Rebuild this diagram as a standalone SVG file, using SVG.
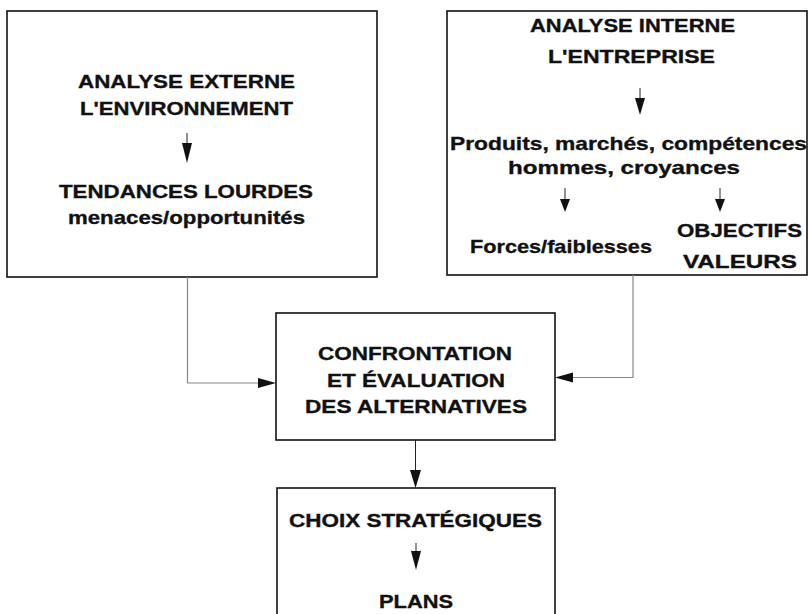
<svg xmlns="http://www.w3.org/2000/svg" width="809" height="614" viewBox="0 0 809 614">
<style>
.box{fill:none;stroke:#111;stroke-width:1.6}
.t{font-family:"Liberation Sans",Arial,sans-serif;font-weight:bold;font-size:19px;fill:#111;stroke:#111;stroke-width:0.35;text-anchor:middle}
.ln{fill:none;stroke:#222;stroke-width:1}
.cn{fill:none;stroke:#888;stroke-width:1.2}
.hd{fill:#111;stroke:none}
</style>
<rect width="809" height="614" fill="#fff"/>
<g id="externe">
<rect class="box" x="7" y="11" width="370" height="266"/>
<text class="t" x="186.5" y="88" textLength="217" lengthAdjust="spacingAndGlyphs">ANALYSE EXTERNE</text>
<text class="t" x="186.5" y="115" textLength="213" lengthAdjust="spacingAndGlyphs">L'ENVIRONNEMENT</text>
<line class="ln" x1="187" y1="133" x2="187" y2="144"/>
<polygon class="hd" points="182,143 192,143 187,163"/>
<text class="t" x="186" y="198" textLength="254" lengthAdjust="spacingAndGlyphs">TENDANCES LOURDES</text>
<text class="t" x="186.5" y="224" textLength="237" lengthAdjust="spacingAndGlyphs">menaces/opportunités</text>
</g>
<g id="interne">
<rect class="box" x="447" y="11" width="360" height="264"/>
<text class="t" x="632.5" y="32" textLength="205" lengthAdjust="spacingAndGlyphs">ANALYSE INTERNE</text>
<text class="t" x="631.5" y="63" textLength="167" lengthAdjust="spacingAndGlyphs">L'ENTREPRISE</text>
<line class="ln" x1="640" y1="88" x2="640" y2="99"/>
<polygon class="hd" points="635,98 645,98 640,115"/>
<text class="t" x="628.5" y="150" textLength="357" lengthAdjust="spacingAndGlyphs">Produits, marchés, compétences</text>
<text class="t" x="624" y="174" textLength="232" lengthAdjust="spacingAndGlyphs">hommes, croyances</text>
<line class="ln" x1="565" y1="188" x2="565" y2="200"/>
<polygon class="hd" points="560,199 570,199 565,212"/>
<line class="ln" x1="720" y1="188" x2="720" y2="200"/>
<polygon class="hd" points="715,199 725,199 720,212"/>
<text class="t" x="561" y="253" textLength="182" lengthAdjust="spacingAndGlyphs">Forces/faiblesses</text>
<text class="t" x="739.5" y="237" textLength="125" lengthAdjust="spacingAndGlyphs">OBJECTIFS</text>
<text class="t" x="740" y="268" textLength="114" lengthAdjust="spacingAndGlyphs">VALEURS</text>
</g>
<g id="confrontation">
<rect class="box" x="276" y="313" width="279" height="127"/>
<text class="t" x="415" y="360" textLength="194" lengthAdjust="spacingAndGlyphs">CONFRONTATION</text>
<text class="t" x="416" y="387" textLength="178" lengthAdjust="spacingAndGlyphs">ET ÉVALUATION</text>
<text class="t" x="416" y="413" textLength="222" lengthAdjust="spacingAndGlyphs">DES ALTERNATIVES</text>
</g>
<g id="choix">
<rect class="box" x="277" y="488" width="278" height="140"/>
<text class="t" x="415.5" y="527" textLength="253" lengthAdjust="spacingAndGlyphs">CHOIX STRATÉGIQUES</text>
<line class="ln" x1="416" y1="543" x2="416" y2="552"/>
<polygon class="hd" points="411,551 421,551 416,570"/>
<text class="t" x="416" y="608" textLength="74" lengthAdjust="spacingAndGlyphs">PLANS</text>
</g>
<g id="connectors">
<polyline class="cn" points="187.5,277 187.5,383 260,383"/>
<polygon class="hd" points="258,378 258,388 276,383"/>
<polyline class="cn" points="633,275 633,377.5 571,377.5"/>
<polygon class="hd" points="573,372.5 573,382.5 555,377.5"/>
<line class="ln" x1="415.5" y1="440" x2="415.5" y2="471"/>
<polygon class="hd" points="410,470 421,470 415.5,488"/>
</g>
</svg>
